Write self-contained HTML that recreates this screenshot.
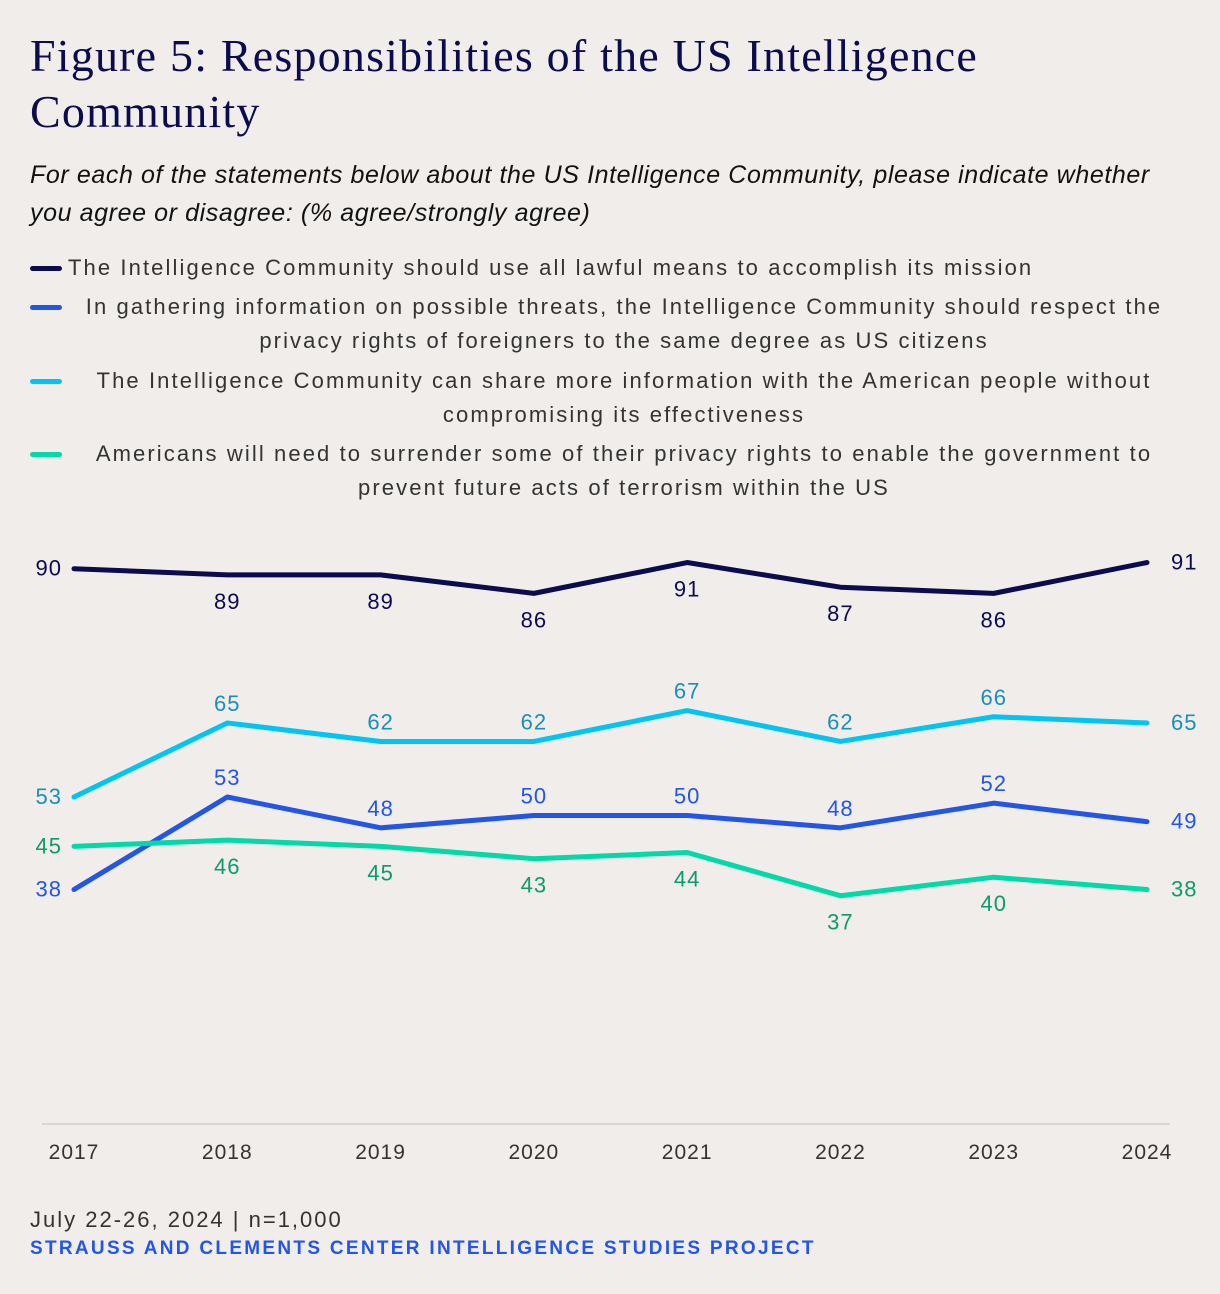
<!DOCTYPE html>
<html><head><meta charset="utf-8">
<style>
body{margin:0;background:#f0edea;width:1220px;height:1294px;overflow:hidden;font-family:"Liberation Sans",sans-serif;}
.title{position:absolute;left:30px;top:28px;font-family:"Liberation Serif",serif;font-size:46px;line-height:56px;color:#0b0b4f;letter-spacing:1.2px;margin:0;font-weight:normal;}
.sub{position:absolute;left:30px;top:156px;width:1150px;font-style:italic;font-size:25px;line-height:38px;color:#111;letter-spacing:0.6px;}
.leg{position:absolute;left:30px;width:1148px;font-size:22px;line-height:34px;color:#333;letter-spacing:2.1px;}
.leg .sw{position:absolute;left:0;top:15px;width:32px;height:5px;border-radius:3px;}
.leg .tx{text-align:center;margin-left:40px;}
.foot1{position:absolute;left:30px;top:1207px;font-size:22px;color:#333;letter-spacing:2px;}
.foot2{position:absolute;left:30px;top:1238px;font-size:19px;color:#2255e8;font-weight:bold;letter-spacing:2.3px;}
</style></head><body>
<h1 class="title">Figure 5: Responsibilities of the US Intelligence<br>Community</h1>
<div class="sub">For each of the statements below about the US Intelligence Community, please indicate whether you agree or disagree: (% agree/strongly agree)</div>
<div class="leg" style="top:251px;width:1180px"><span class="sw" style="background:#0b0b4f"></span><div class="tx" style="text-align:left;margin-left:38px">The Intelligence Community should use all lawful means to accomplish its mission</div></div>
<div class="leg" style="top:290px"><span class="sw" style="background:#2255e8"></span><div class="tx">In gathering information on possible threats, the Intelligence Community should respect the privacy rights of foreigners to the same degree as US citizens</div></div>
<div class="leg" style="top:364px"><span class="sw" style="background:#00c4f4"></span><div class="tx">The Intelligence Community can share more information with the American people without compromising its effectiveness</div></div>
<div class="leg" style="top:437px"><span class="sw" style="background:#00d9a8"></span><div class="tx">Americans will need to surrender some of their privacy rights to enable the government to prevent future acts of terrorism within the US</div></div>
<svg id="chart" width="1220" height="1294" style="position:absolute;left:0;top:0"></svg>
<div class="foot1">July 22-26, 2024 | n=1,000</div>
<div class="foot2">STRAUSS AND CLEMENTS CENTER INTELLIGENCE STUDIES PROJECT</div>
<script>
const years=["2017","2018","2019","2020","2021","2022","2023","2024"];
const lawful=[90,89,89,86,91,87,86,91];
const foreigners=[38,53,48,50,50,48,52,49];
const share=[53,65,62,62,67,62,66,65];
const surrender=[45,46,45,43,44,37,40,38];
const series=[
 {name:"lawful",v:lawful,c:"#0b0b4f",lc:"#0b0b4f",pos:"below"},
 {name:"share",v:share,c:"#00c4f4",lc:"#1a8fb8",pos:"above"},
 {name:"foreigners",v:foreigners,c:"#2255e8",lc:"#2255e8",pos:"above"},
 {name:"surrender",v:surrender,c:"#00d9a8",lc:"#0e9a70",pos:"below"}];
const NS="http://www.w3.org/2000/svg";
const svg=document.getElementById('chart');
const x=i=>74+i*(1147-74)/(years.length-1);
const y=v=>1124-6.17*v;
function mk(t,a){const e=document.createElementNS(NS,t);for(const k in a)e.setAttribute(k,a[k]);svg.appendChild(e);return e;}
const ax=mk('line',{x1:42,x2:1170,y1:1124,y2:1124,stroke:'#cfcfcf','stroke-width':1.5});


years.forEach((yr,i)=>{const t=mk('text',{x:x(i),y:1159,'text-anchor':'middle','font-size':21,fill:'#333','letter-spacing':1,'font-family':'Liberation Sans, sans-serif'});t.textContent=yr;

});
series.forEach(s=>{
 const p=mk('polyline',{points:s.v.map((v,i)=>x(i)+','+y(v)).join(' '),fill:'none',stroke:s.c,'stroke-width':5,'stroke-linejoin':'round','stroke-linecap':'round'});
 
 
 s.v.forEach((v,i)=>{
  let tx=x(i),ty,anc='middle';
  if(i===0){tx=x(i)-12;ty=y(v)+7;anc='end';}
  else if(i===s.v.length-1){tx=x(i)+24;ty=y(v)+7;anc='start';}
  else if(s.pos==='above'){ty=y(v)-12;}
  else{ty=y(v)+34;}
  const t=mk('text',{x:tx,y:ty,'text-anchor':anc,'font-size':22,'letter-spacing':1,fill:s.lc,'font-family':'Liberation Sans, sans-serif'});
  t.textContent=v;
  
  
 });
});
</script>
</body></html>
